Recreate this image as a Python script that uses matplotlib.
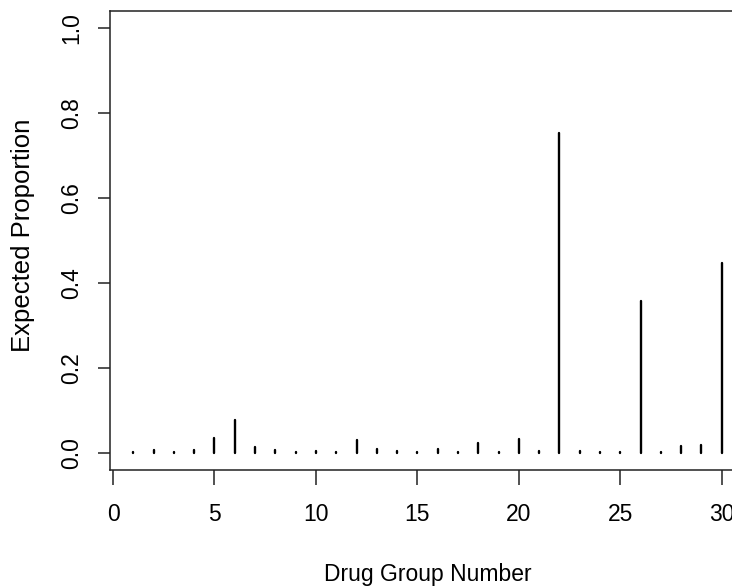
import matplotlib
matplotlib.use("Agg")
import matplotlib.pyplot as plt
import numpy as np

groups = list(range(1, 31))
proportions = [0.003, 0.008, 0.003, 0.007, 0.036, 0.078, 0.014, 0.008, 0.003, 0.005,
               0.003, 0.031, 0.010, 0.005, 0.004, 0.009, 0.003, 0.025, 0.004, 0.034,
               0.005, 0.753, 0.005, 0.003, 0.003, 0.358, 0.004, 0.017, 0.020, 0.448]
x_ticks = [0, 5, 10, 15, 20, 25, 30]
y_ticks = [0.0, 0.2, 0.4, 0.6, 0.8, 1.0]
x_label = "Drug Group Number"
y_label = "Expected Proportion"

W, H = 732, 587
fig = plt.figure(figsize=(W / 100, H / 100), dpi=100)
left_px, right_px, top_px, bottom_px = 109.8, 745.3, 11.3, 470.3
ax = fig.add_axes([left_px / W, 1 - bottom_px / H,
                   (right_px - left_px) / W, (bottom_px - top_px) / H])

lc = ax.vlines(groups, 0, proportions, colors="black", linewidth=1.7)
lc.set_capstyle("round")

ax.set_xlim(-0.16, 31.16)
ax.set_ylim(-0.04, 1.04)

font = "Liberation Sans"
ax.set_xticks(x_ticks)
ax.set_xticklabels([str(t) for t in x_ticks], family=font, fontsize=16.5)
ax.set_yticks(y_ticks)
ax.set_yticklabels([f"{t:.1f}" for t in y_ticks], family=font,
                   fontsize=16.5, rotation=90, va="center")
ax.tick_params(axis="both", direction="out", width=1.1, color="#222222")
ax.tick_params(axis="x", length=10.8, pad=12.5)
ax.tick_params(axis="y", length=8.8, pad=10.5)
for s in ax.spines.values():
    s.set_linewidth(1.1)
    s.set_color("#222222")

fig.text(428 / W, 1 - 581.5 / H, x_label, family=font, fontsize=16.5,
         ha="center", va="baseline")
fig.text(23 / W, 1 - 235 / H, y_label, family=font, fontsize=18.5,
         rotation=90, ha="center", va="center")

fig.savefig("out.png", dpi=100)
